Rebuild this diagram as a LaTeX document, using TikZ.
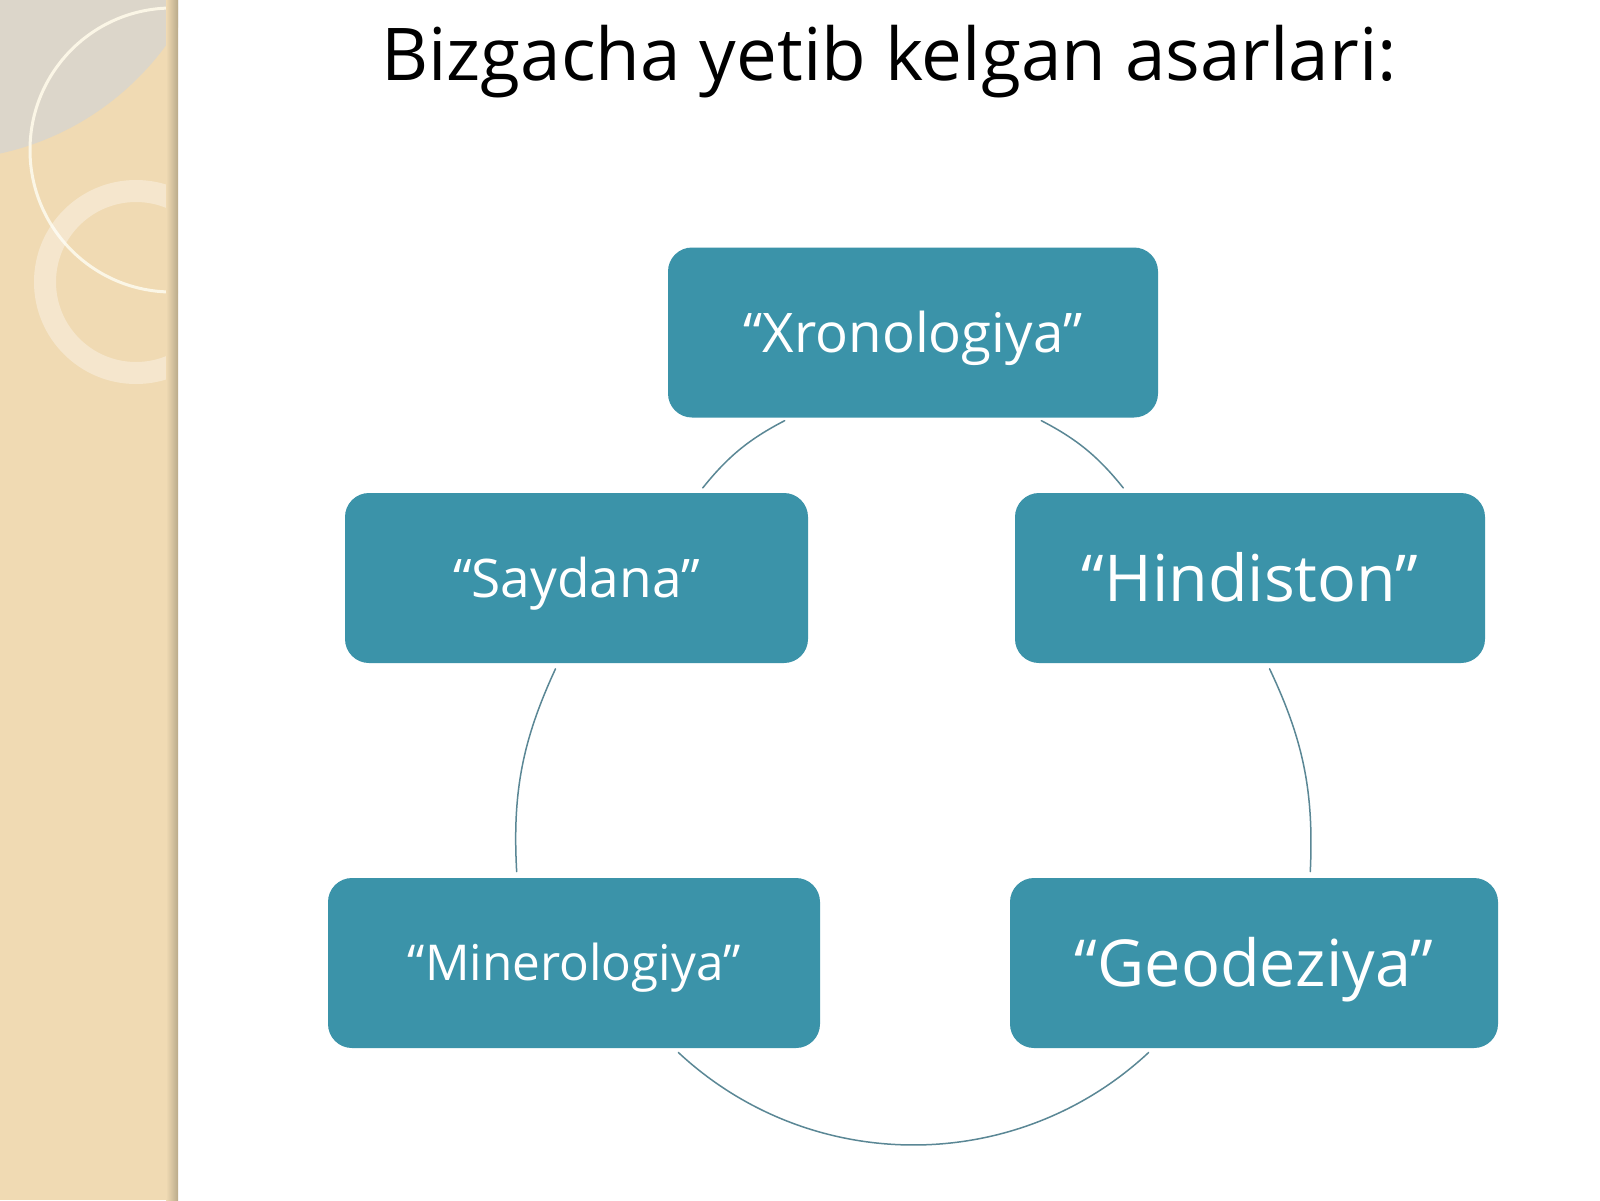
\documentclass[tikz,border=0pt]{standalone}
\usepackage{fontspec}
\setmainfont{Open Sans}
\definecolor{boxteal}{HTML}{3B93A9}
\definecolor{ringline}{HTML}{5A8795}
\definecolor{sidebeige}{HTML}{F0DAB3}
\definecolor{sidegray}{HTML}{DCD6CA}
\definecolor{sideshade}{HTML}{B9AA8A}
\definecolor{sidering}{HTML}{FBF6E6}

\begin{document}
\begin{tikzpicture}[x=0.5pt, y=-0.5pt, line cap=round, line join=round,
	work/.style={rectangle, rounded corners=12pt, fill=boxteal, text=white,
		minimum height=85pt, inner sep=0pt, text depth=0.12em},
	link/.style={ringline, line width=0.75pt, shorten <=3pt, shorten >=3pt}]
	\useasboundingbox (0,0) rectangle (1600,1200);
	\fill[white] (0,0) rectangle (1600,1200);
	% side band
	\fill[sidebeige] (0,0) rectangle (178,1200);
	\begin{scope}
		\clip (0,0) rectangle (178,1200);
		\fill[sidegray] (-60,-120) circle[radius=280];
		\draw[sidering, line width=1.5pt] (172,150) circle[radius=142];
		\fill[white, opacity=0.35, even odd rule] (136,282) circle[radius=102] (136,282) circle[radius=80];
		\shade[left color=sidebeige, right color=sideshade] (166,0) rectangle (178,1200);
	\end{scope}
	% title
	\node[anchor=base, font=\fontsize{36.4}{44}\selectfont] (title) at (889,80) {Bizgacha yetib kelgan asarlari:};
	% boxes
	\node[work, minimum width=245pt, font=\fontsize{27.3}{32}\selectfont] (xron) at (913,332.5) {“Xronologiya”};
	\node[work, minimum width=231.5pt, font=\fontsize{26.6}{32}\selectfont] (saydana) at (576.5,578) {“Saydana”};
	\node[work, minimum width=235pt, font=\fontsize{32.3}{38}\selectfont] (hind) at (1250,578) {“Hindiston”};
	\node[work, minimum width=246pt, font=\fontsize{24.7}{30}\selectfont] (miner) at (574,963) {“Minerologiya”};
	\node[work, minimum width=244pt, font=\fontsize{32.4}{38}\selectfont] (geod) at (1254,963) {“Geodeziya”};
	% cycle
	\draw[link] ([xshift=-61.5pt]xron.south) to[bend right=12] ([xshift=61.25pt]saydana.north);
	\draw[link] ([xshift=61.5pt]xron.south) to[bend left=12] ([xshift=-61.5pt]hind.north);
	\draw[link] ([xshift=-9.25pt]saydana.south) to[bend right=14] ([xshift=-28.5pt]miner.north);
	\draw[link] ([xshift=8.5pt]hind.south) to[bend left=14] ([xshift=28pt]geod.north);
	\draw[link] ([xshift=50pt]miner.south) to[bend right=43] ([xshift=-50.5pt]geod.south);
\end{tikzpicture}
\end{document}
